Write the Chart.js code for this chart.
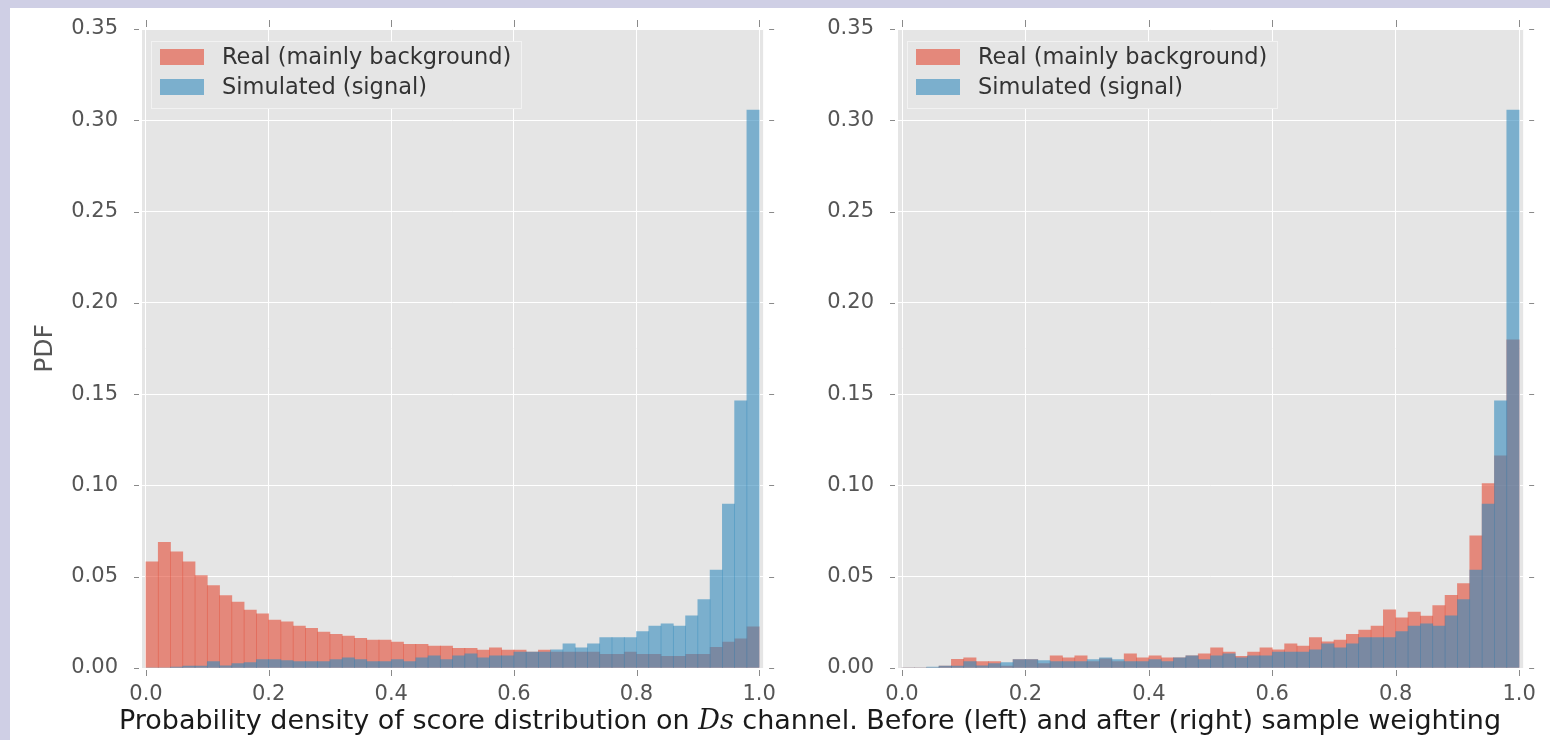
<!DOCTYPE html>
<html>
<head>
<meta charset="utf-8">
<title>Score distribution on Ds channel</title>
<script src="https://cdn.jsdelivr.net/npm/chart.js@4"></script>
<style>
body { margin:0; background:#fff; width:1550px; height:740px; position:relative; overflow:hidden;
       font-family:"DejaVu Sans", sans-serif; }
.bandTop { position:absolute; left:0; top:0; width:1550px; height:8px; background:#cfcfe5; }
.bandLeft { position:absolute; left:0; top:0; width:10px; height:740px; background:#cfcfe5; }
#leftChart { position:absolute; left:0; top:0; }
#rightChart { position:absolute; left:776px; top:0; }
#caption { position:absolute; left:0; width:1620px; top:705px; text-align:center;
           font-size:27px; line-height:30px; color:#1a1a1a; white-space:nowrap; }
#caption i { font-family:"DejaVu Serif", serif; }
</style>
</head>
<body>
<div class="bandTop"></div>
<div class="bandLeft"></div>
<canvas id="leftChart" width="790" height="710"></canvas>
<canvas id="rightChart" width="774" height="710"></canvas>
<div id="caption">Probability density of score distribution on <i>Ds</i> channel. Before (left) and after (right) sample weighting</div>

<script>
// 50 bins of width 0.02 on [0, 1]
const binCenters = Array.from({length: 50}, (_, i) => (i + 0.5) / 50);
const xTicks = [0.0, 0.2, 0.4, 0.6, 0.8, 1.0];
const yTicks = [0.00, 0.05, 0.10, 0.15, 0.20, 0.25, 0.30, 0.35];

const seriesNames = ["Real (mainly background)", "Simulated (signal)"];

// Real data, before weighting (left)
const realBefore = [
	0.0581, 0.0689, 0.0636, 0.0581, 0.0506, 0.0452, 0.0397, 0.0361, 0.0317, 0.0297,
	0.0262, 0.0253, 0.0230, 0.0217, 0.0197, 0.0184, 0.0175, 0.0162, 0.0153, 0.0153,
	0.0142, 0.0130, 0.0130, 0.0120, 0.0120, 0.0108, 0.0108, 0.0098, 0.0111, 0.0098,
	0.0098, 0.0087, 0.0098, 0.0087, 0.0087, 0.0087, 0.0087, 0.0075, 0.0075, 0.0087,
	0.0075, 0.0075, 0.0064, 0.0064, 0.0075, 0.0075, 0.0113, 0.0142, 0.0160, 0.0225
];
// Real data, after sample weighting (right)
const realAfter = [
	0.0000, 0.0000, 0.0000, 0.0010, 0.0047, 0.0056, 0.0035, 0.0035, 0.0010, 0.0046,
	0.0046, 0.0024, 0.0067, 0.0056, 0.0067, 0.0035, 0.0050, 0.0035, 0.0078, 0.0056,
	0.0067, 0.0056, 0.0056, 0.0067, 0.0078, 0.0111, 0.0087, 0.0064, 0.0087, 0.0111,
	0.0100, 0.0133, 0.0120, 0.0166, 0.0144, 0.0153, 0.0184, 0.0208, 0.0230, 0.0319,
	0.0275, 0.0306, 0.0284, 0.0342, 0.0398, 0.0462, 0.0724, 0.1010, 0.1162, 0.1797
];
// Simulated signal (same in both panels)
const simulated = [
	0.0000, 0.0000, 0.0005, 0.0010, 0.0010, 0.0035, 0.0012, 0.0024, 0.0030, 0.0046,
	0.0046, 0.0040, 0.0035, 0.0035, 0.0035, 0.0046, 0.0056, 0.0046, 0.0035, 0.0035,
	0.0046, 0.0035, 0.0056, 0.0067, 0.0046, 0.0066, 0.0078, 0.0056, 0.0066, 0.0066,
	0.0087, 0.0087, 0.0087, 0.0100, 0.0133, 0.0111, 0.0133, 0.0166, 0.0166, 0.0166,
	0.0199, 0.0230, 0.0242, 0.0230, 0.0286, 0.0375, 0.0537, 0.0898, 0.1463, 0.3056
];

const redFill = "rgba(226, 74, 51, 0.6)";
const blueFill = "rgba(52, 138, 189, 0.6)";

// gray panel, outside tick marks and the in-axes legend
const ggFrame = {
	id: "ggFrame",
	beforeDraw(chart) {
		const ctx = chart.ctx, a = chart.chartArea;
		ctx.save();
		ctx.fillStyle = "#e5e5e5";
		ctx.fillRect(a.left, a.top, a.right - a.left, a.bottom - a.top);
		ctx.restore();
	},
	afterDraw(chart) {
		const ctx = chart.ctx, a = chart.chartArea;
		const xs = chart.scales.x, ys = chart.scales.y;
		ctx.save();
		ctx.strokeStyle = "#8a8a8a";
		ctx.lineWidth = 1;
		ctx.beginPath();
		for (const v of xTicks) {
			const px = Math.round(xs.getPixelForValue(v)) + 0.5;
			ctx.moveTo(px, a.top - 9); ctx.lineTo(px, a.top - 2);
			ctx.moveTo(px, a.bottom + 2); ctx.lineTo(px, a.bottom + 8);
		}
		for (const v of yTicks) {
			const py = Math.round(ys.getPixelForValue(v)) + 0.5;
			ctx.moveTo(a.left - 8, py); ctx.lineTo(a.left - 3, py);
			ctx.moveTo(a.right + 6, py); ctx.lineTo(a.right + 11, py);
		}
		ctx.stroke();

		// legend box
		const bx = a.left + 9, by = a.top + 12;
		ctx.fillStyle = "#e5e5e5";
		ctx.fillRect(bx, by, 370, 67);
		ctx.strokeStyle = "#f2f2f2";
		ctx.strokeRect(bx + 0.5, by + 0.5, 370, 67);
		ctx.font = "22.5px 'DejaVu Sans'";
		ctx.textBaseline = "middle";
		const rows = [chart.data.datasets[0], chart.data.datasets[1]];
		rows.forEach((ds, i) => {
			const cy = by + 16 + i * 30;
			ctx.fillStyle = ds.backgroundColor;
			ctx.fillRect(bx + 9, cy - 8, 44, 16);
			ctx.fillStyle = "#333";
			ctx.fillText(ds.label, bx + 71, cy + 1);
		});
		ctx.restore();
	}
};

function makeHist(canvasId, realValues, axisWidth, rightPad, showTitle) {
	const toPoints = (vals) => vals.map((v, i) => ({x: binCenters[i], y: v}));
	return new Chart(document.getElementById(canvasId), {
		type: "bar",
		data: {
			datasets: [
				{ label: seriesNames[0], data: toPoints(realValues), backgroundColor: redFill, order: 2 },
				{ label: seriesNames[1], data: toPoints(simulated), backgroundColor: blueFill, order: 1 }
			]
		},
		options: {
			responsive: false,
			animation: false,
			devicePixelRatio: 1,
			layout: { autoPadding: false, padding: { top: 29, right: rightPad, left: 0, bottom: 0 } },
			datasets: { bar: { barPercentage: 1, categoryPercentage: 1, grouped: false, borderWidth: 0 } },
			plugins: { legend: { display: false }, tooltip: { enabled: false } },
			scales: {
				x: {
					type: "linear",
					offset: false,
					min: -0.0065, max: 1.0065,
					afterBuildTicks: (s) => { s.ticks = xTicks.map(v => ({value: v})); },
					afterFit: (s) => { s.height = 42; },
					grid: { color: "#ffffff", lineWidth: 1, drawTicks: false, offset: false },
					border: { display: false },
					ticks: { color: "#555", padding: 14, font: { family: "DejaVu Sans", size: 21 },
						callback: (v) => v.toFixed(1) }
				},
				y: {
					min: 0, max: 0.35,
					afterBuildTicks: (s) => { s.ticks = yTicks.map(v => ({value: v})); },
					// fixed axis width, and no extra room reserved for the end labels
					afterFit: (s) => { s.width = axisWidth; s.paddingTop = 0; s.paddingBottom = 0; },
					grid: { color: "#ffffff", lineWidth: 1, drawTicks: false },
					border: { display: false },
					ticks: { color: "#555", padding: 24, font: { family: "DejaVu Sans", size: 21 },
						callback: (v) => v.toFixed(2) },
					title: { display: showTitle, text: "PDF", color: "#555",
						font: { family: "DejaVu Sans", size: 25 }, padding: { top: 30, bottom: 0 } }
				}
			}
		},
		plugins: [ggFrame]
	});
}

makeHist("leftChart", realBefore, 142, 23, true);
makeHist("rightChart", realAfter, 122, 26, false);
</script>
</body>
</html>
